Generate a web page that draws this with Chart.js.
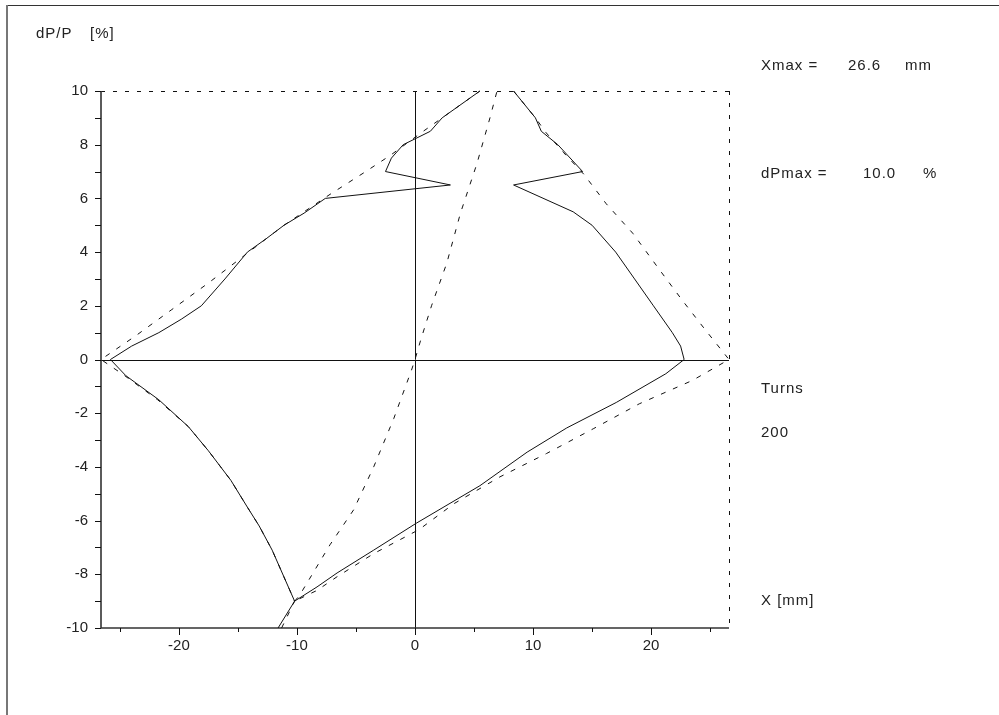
<!DOCTYPE html>
<html>
<head>
<meta charset="utf-8">
<script src="https://cdn.jsdelivr.net/npm/chart.js@4/dist/chart.umd.min.js"></script>
<style>
  html, body { margin: 0; padding: 0; background: #fff; }
  #wrap { width: 999px; height: 715px; }
</style>
</head>
<body>
<div id="wrap"><canvas id="chart" width="999" height="715"></canvas></div>
<script>
// axis limits and tick labels
const xLimit = 26.6;
const yLimit = 10;
const xTickLabels = [-20, -10, 0, 10, 20];
const yTickLabels = [-10, -8, -6, -4, -2, 0, 2, 4, 6, 8, 10];

// solid curve, left branch (bottom -> left -> top)
const solidLeftX = [-11.6, -10.2, -11.1, -12.1, -13.2, -14.2, -15.6, -17.5, -19.2, -21.7, -24.5, -25.8,
  -24.0, -21.7, -19.8, -18.1, -16.1, -14.2, -12.6, -11.1, -9.4, -7.6, 3.0, -2.5, -2.0, -1.0, 1.3, 2.3, 5.5];
const solidLeftY = [-10, -9.0, -8.1, -7.1, -6.2, -5.5, -4.5, -3.4, -2.5, -1.5, -0.6, 0,
  0.5, 1.0, 1.5, 2.0, 3.0, 4.0, 4.5, 5.0, 5.45, 6.0, 6.5, 7.0, 7.5, 8.0, 8.5, 9.0, 10];

// solid curve, right branch (top -> right -> bottom)
const solidRightX = [8.35, 10.2, 10.7, 12.1, 14.2, 8.35, 13.4, 15.0, 17.0, 18.6, 20.2, 21.8, 22.5, 22.8,
  21.25, 17.05, 12.85, 9.5, 5.5, 0.1, -3.5, -6.6, -8.3, -10.2];
const solidRightY = [10, 9.0, 8.5, 8.0, 7.0, 6.5, 5.5, 5.0, 4.0, 3.0, 2.0, 1.0, 0.5, 0,
  -0.53, -1.6, -2.55, -3.45, -4.7, -6.1, -7.1, -7.95, -8.47, -9.0];

// dashed curve, left branch
const dashLeftX = [-11.3, -10.2, -11.1, -12.1, -13.2, -14.2, -15.6, -17.5, -19.2, -21.8, -24.6, -26.6,
  -23.7, -20.6, -17.5, -14.2, -12.6, -11.1, -7.2, -4.35, -2.1, 0.7, 2.3, 5.5];
const dashLeftY = [-10, -9.0, -8.1, -7.1, -6.2, -5.5, -4.5, -3.4, -2.5, -1.5, -0.6, 0,
  0.87, 1.86, 2.85, 3.96, 4.5, 5.0, 6.15, 6.95, 7.6, 8.5, 9.0, 10];

// dashed curve, right branch
const dashRightX = [8.35, 10.2, 11.1, 12.6, 14.3, 16.2, 18.45, 20.7, 22.65, 24.6, 26.6,
  23.5, 19.0, 15.1, 11.15, 7.2, 3.3, 0.36, -3.5, -6.6, -8.3, -10.2];
const dashRightY = [10, 9.0, 8.45, 7.7, 6.9, 5.8, 4.7, 3.35, 2.2, 1.1, 0,
  -0.78, -1.65, -2.58, -3.5, -4.37, -5.37, -6.33, -7.23, -8.09, -8.6, -9.0];

// dashed central curve
const dashMidX = [-10.2, -9.8, -7.2, -5.2, -3.5, -1.8, -0.3, 0, 0.5, 1.4, 2.7, 3.85, 5.25, 6.35, 6.95];
const dashMidY = [-9.0, -8.8, -6.9, -5.6, -4.0, -2.2, -0.4, 0, 0.75, 2.0, 3.6, 5.45, 7.3, 9.0, 10];

function pairs(xs, ys) {
  return xs.map((x, i) => ({ x: x, y: ys[i] }));
}

function lineSet(xs, ys, dash) {
  return {
    data: pairs(xs, ys),
    showLine: true,
    borderColor: '#111',
    borderWidth: 1,
    borderDash: dash,
    pointRadius: 0,
    tension: 0,
    clip: false
  };
}

const FONT = '15px "Liberation Sans", Arial, sans-serif';

// frame, zero lines, ticks, side texts
const decorations = {
  id: 'decorations',
  beforeDatasetsDraw(chart) {
    const ctx = chart.ctx;
    const xs = chart.scales.x;
    const ys = chart.scales.y;
    const L = xs.getPixelForValue(-xLimit), R = xs.getPixelForValue(xLimit);
    const T = ys.getPixelForValue(yLimit), B = ys.getPixelForValue(-yLimit);
    const X0 = xs.getPixelForValue(0), Y0 = ys.getPixelForValue(0);

    ctx.save();
    ctx.strokeStyle = '#111';
    ctx.lineWidth = 1;

    // dashed top and right frame
    ctx.setLineDash([4, 8]);
    ctx.beginPath();
    ctx.moveTo(L, Math.round(T) + 0.5); ctx.lineTo(R, Math.round(T) + 0.5);
    ctx.moveTo(Math.round(R) + 0.5, T); ctx.lineTo(Math.round(R) + 0.5, B);
    ctx.stroke();
    ctx.setLineDash([]);

    // solid zero lines
    ctx.beginPath();
    ctx.moveTo(L, Math.round(Y0) + 0.5); ctx.lineTo(R, Math.round(Y0) + 0.5);
    ctx.moveTo(Math.round(X0) + 0.5, T); ctx.lineTo(Math.round(X0) + 0.5, B);
    ctx.stroke();

    // left and bottom axes
    ctx.lineWidth = 1.6;
    ctx.strokeStyle = '#333';
    ctx.beginPath();
    ctx.moveTo(Math.round(L), T); ctx.lineTo(Math.round(L), B);
    ctx.moveTo(L, Math.round(B)); ctx.lineTo(R, Math.round(B));
    ctx.stroke();

    // tick marks
    ctx.lineWidth = 1;
    ctx.strokeStyle = '#111';
    ctx.beginPath();
    for (let v = -yLimit; v <= yLimit; v++) {
      const py = Math.round(ys.getPixelForValue(v)) + 0.5;
      ctx.moveTo(L - 6, py); ctx.lineTo(L, py);
    }
    for (let v = -25; v <= 25; v += 5) {
      const px = Math.round(xs.getPixelForValue(v)) + 0.5;
      const len = v % 10 === 0 ? 7 : 4;
      ctx.moveTo(px, B); ctx.lineTo(px, B + len);
    }
    ctx.stroke();
    ctx.restore();
  },
  afterDraw(chart) {
    const ctx = chart.ctx;
    ctx.save();
    // page border (top and left edge only)
    ctx.strokeStyle = '#333';
    ctx.lineWidth = 1;
    ctx.beginPath();
    ctx.moveTo(7, 5.5); ctx.lineTo(999, 5.5);
    ctx.stroke();
    ctx.strokeStyle = '#777';
    ctx.lineWidth = 2;
    ctx.beginPath();
    ctx.moveTo(7, 5); ctx.lineTo(7, 715);
    ctx.stroke();

    ctx.fillStyle = '#222';
    ctx.font = FONT;
    ctx.textAlign = 'left';
    ctx.textBaseline = 'alphabetic';
    ctx.letterSpacing = '1px';
    ctx.fillText('dP/P', 36, 38);
    ctx.fillText('[%]', 90, 38);
    ctx.fillText('Xmax =', 761, 70);
    ctx.fillText('26.6', 848, 70);
    ctx.fillText('mm', 905, 70);
    ctx.fillText('dPmax =', 761, 178);
    ctx.fillText('10.0', 863, 178);
    ctx.fillText('%', 923, 178);
    ctx.fillText('Turns', 761, 393);
    ctx.fillText('200', 761, 437);
    ctx.fillText('X [mm]', 761, 605);
    ctx.restore();
  }
};

new Chart(document.getElementById('chart'), {
  type: 'scatter',
  data: {
    datasets: [
      lineSet(solidLeftX, solidLeftY, []),
      lineSet(solidRightX, solidRightY, []),
      lineSet(dashLeftX, dashLeftY, [5, 8]),
      lineSet(dashRightX, dashRightY, [5, 8]),
      lineSet(dashMidX, dashMidY, [5, 8])
    ]
  },
  options: {
    responsive: false,
    animation: false,
    devicePixelRatio: 1,
    layout: { padding: { top: 91, right: 270, bottom: 0, left: 0 } },
    plugins: { legend: { display: false }, tooltip: { enabled: false } },
    scales: {
      x: {
        type: 'linear',
        min: -xLimit,
        max: xLimit,
        afterFit: s => { s.height = 87; },
        afterBuildTicks: s => { s.ticks = xTickLabels.map(v => ({ value: v })); },
        grid: { display: false, drawTicks: false },
        border: { display: false },
        ticks: { padding: 9, color: '#222', font: { family: 'Liberation Sans', size: 15 }, maxRotation: 0 }
      },
      y: {
        type: 'linear',
        min: -yLimit,
        max: yLimit,
        afterFit: s => { s.width = 101; },
        afterBuildTicks: s => { s.ticks = yTickLabels.map(v => ({ value: v })); },
        grid: { display: false, drawTicks: false },
        border: { display: false },
        ticks: { padding: 13, color: '#222', font: { family: 'Liberation Sans', size: 15 } }
      }
    }
  },
  plugins: [decorations]
});
</script>
</body>
</html>
